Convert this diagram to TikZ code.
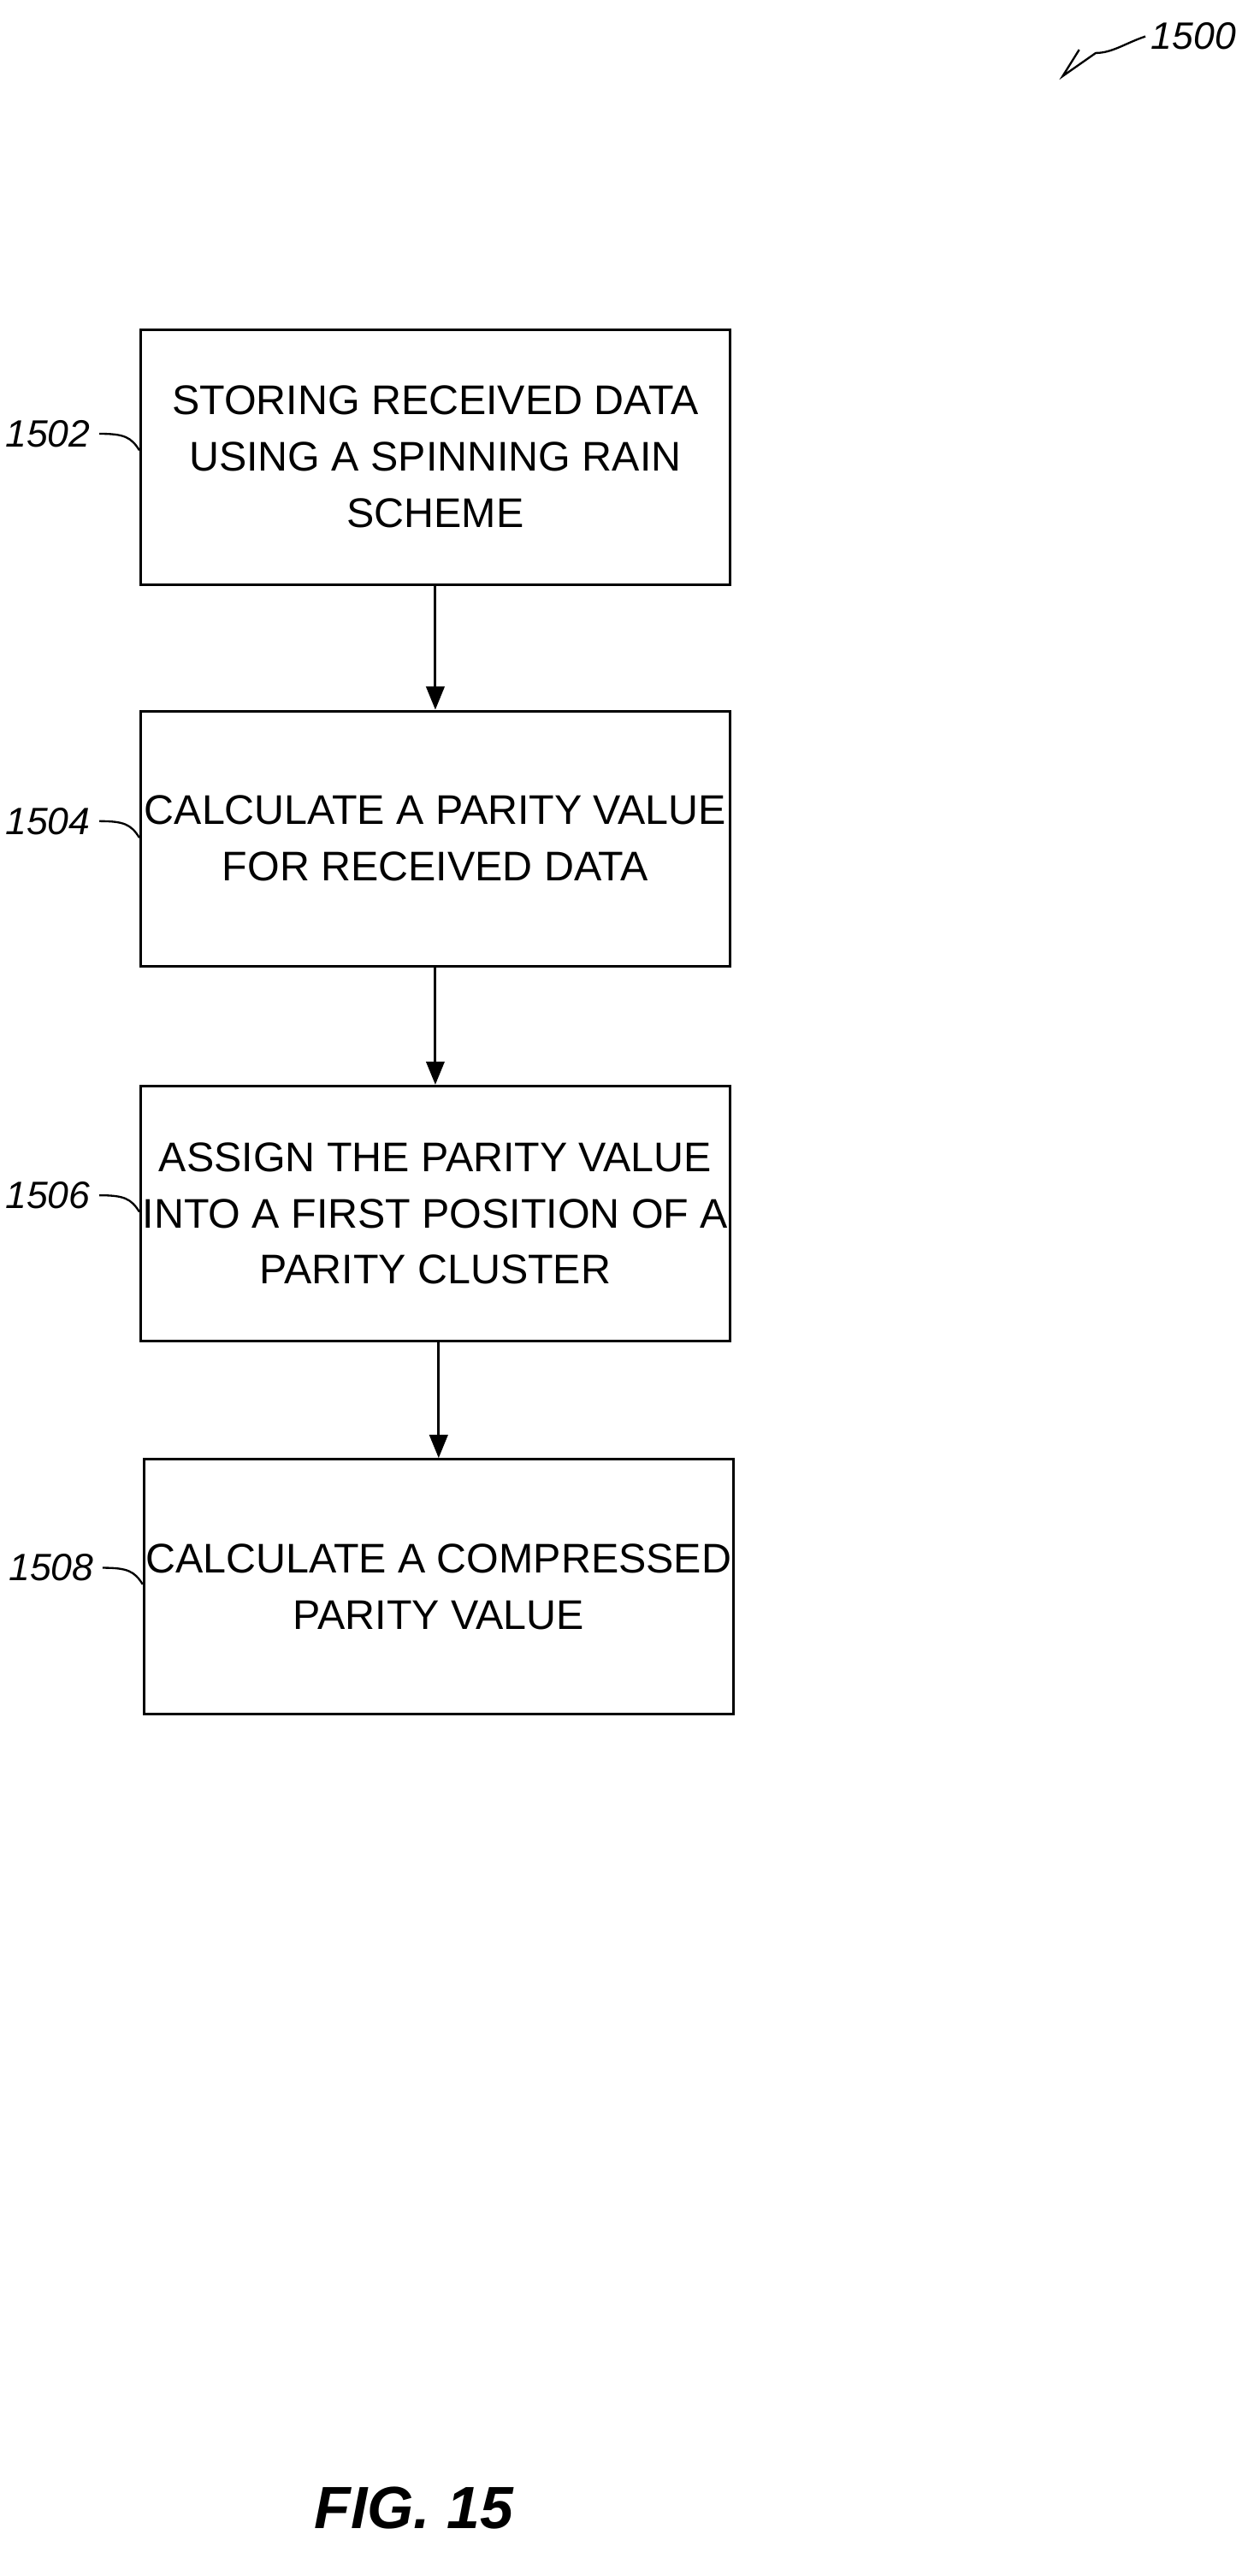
\documentclass[tikz,border=0pt]{standalone}
\usepackage{fontspec}
\setmainfont{Liberation Sans}
\usetikzlibrary{arrows.meta}
\begin{document}
\begin{tikzpicture}[x=1pt,y=-1pt,
  box/.style={draw,line width=1.6pt,minimum width=356pt,minimum height=154pt,align=center,font=\fontsize{25}{34}\selectfont,inner sep=0pt},
  lab/.style={font=\itshape\fontsize{23}{26}\selectfont,anchor=east},
  arr/.style={line width=1.6pt,-{Triangle[length=14pt,width=11pt]}}]
\useasboundingbox (0,0) rectangle (750,1556);
\node[box] (b1) at (263,276) {STORING RECEIVED DATA\\USING A SPINNING RAIN\\SCHEME};
\node[box] (b2) at (263,506.5) {CALCULATE A PARITY VALUE\\FOR RECEIVED DATA};
\node[box] (b3) at (263,733) {ASSIGN THE PARITY VALUE\\INTO A FIRST POSITION OF A\\PARITY CLUSTER};
\node[box] (b4) at (265,958.5) {CALCULATE A COMPRESSED\\PARITY VALUE};
\draw[arr] (b1) -- (b2);
\draw[arr] (b2) -- (b3);
\draw[arr] (b3.south -| b4.north) -- (b4);
\node[lab] (l1) at (58,262) {1502};
\node[lab] (l2) at (58,496) {1504};
\node[lab] (l3) at (58,722) {1506};
\node[lab] (l4) at (60,947) {1508};
\draw[line width=1.2pt] (l1.east) ++(2,0) .. controls +(15,0) and +(-5,-8) .. (b1.west |- 0,272);
\draw[line width=1.2pt] (l2.east) ++(2,0) .. controls +(15,0) and +(-5,-8) .. (b2.west |- 0,506);
\draw[line width=1.2pt] (l3.east) ++(2,0) .. controls +(15,0) and +(-5,-8) .. (b3.west |- 0,732);
\draw[line width=1.2pt] (l4.east) ++(2,0) .. controls +(15,0) and +(-5,-8) .. (b4.west |- 0,957);
\node[font=\itshape\fontsize{23}{26}\selectfont,anchor=west] (n) at (692,22) {1500};
\coordinate (t) at (642,46);
\draw[line width=1.2pt] (n.west) .. controls (680,26) and (672,32) .. (662,32) -- (t) -- (652,30);
\node[font=\bfseries\itshape\fontsize{36}{40}\selectfont] (f) at (250,1515) {FIG. 15};
\end{tikzpicture}
\end{document}
